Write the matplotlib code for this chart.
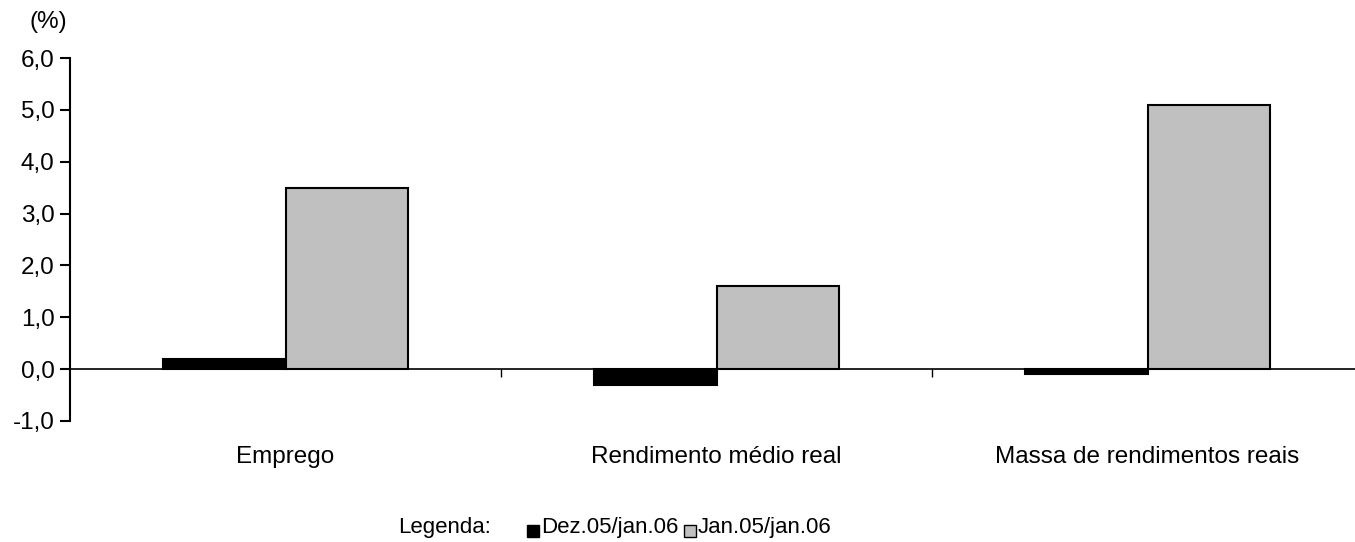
import matplotlib
matplotlib.use("Agg")
import matplotlib.pyplot as plt
import matplotlib.transforms as mtransforms
import numpy as np

categories = ["Emprego", "Rendimento médio real", "Massa de rendimentos reais"]
dez_jan = [0.2, -0.3, -0.1]
jan_jan = [3.5, 1.6, 5.1]
series_labels = ["Dez.05/jan.06", "Jan.05/jan.06"]
yticks = [-1, 0, 1, 2, 3, 4, 5, 6]

plt.rcParams['font.family'] = ['Liberation Sans', 'DejaVu Sans']
fs = 17.5

fig = plt.figure(figsize=(13.55, 5.42), dpi=100)
ax = fig.add_axes([70 / 1355, 1 - 421 / 542, 1293 / 1355, (421 - 58) / 542])

x = np.arange(len(categories)) + 0.5
w = 0.285
ax.bar(x - w / 2, dez_jan, w, color="black", edgecolor="black", linewidth=1.5)
ax.bar(x + w / 2, jan_jan, w, color="#c0c0c0", edgecolor="black", linewidth=1.5)

ax.set_xlim(0, 3)
ax.set_ylim(-1, 6)
ax.axhline(0, color="black", linewidth=1.2, zorder=0)

# spines / ticks
for s in ["top", "right"]:
    ax.spines[s].set_visible(False)
ax.spines["bottom"].set_position(("data", 0))
ax.spines["bottom"].set_visible(False)
ax.spines["left"].set_linewidth(1.5)
ax.set_yticks(yticks)
ax.set_yticklabels([f"{v:.1f}".replace(".", ",") for v in yticks], fontsize=fs)
ax.tick_params(axis="y", direction="out", length=7, width=1.5, pad=4)
ax.set_xticks([1, 2])
ax.set_xticklabels([])
ax.tick_params(axis="x", direction="out", length=6, width=1)

trans = mtransforms.blended_transform_factory(ax.transData, fig.transFigure)
for xi, c in zip(x, categories):
    ax.text(xi, 1 - 457 / 542, c, transform=trans, ha="center", va="center", fontsize=fs)

fig.text(48 / 1355, 1 - 22 / 542, "(%)", ha="center", va="center", fontsize=fs)

# legend
lfs = 16
ly = 1 - 528 / 542
fig.text(398 / 1355, ly, "Legenda:", ha="left", va="center", fontsize=lfs)
for px, color, lab in [(527, "black", series_labels[0]), (684, "#c0c0c0", series_labels[1])]:
    fig.patches.append(plt.Rectangle((px / 1355, 1 - 537 / 542), 12 / 1355, 12 / 542,
                                     facecolor=color, edgecolor="black", linewidth=1,
                                     transform=fig.transFigure, figure=fig))
    fig.text((px + 14) / 1355, ly, lab, ha="left", va="center", fontsize=lfs)

fig.savefig("out.png", dpi=100)
